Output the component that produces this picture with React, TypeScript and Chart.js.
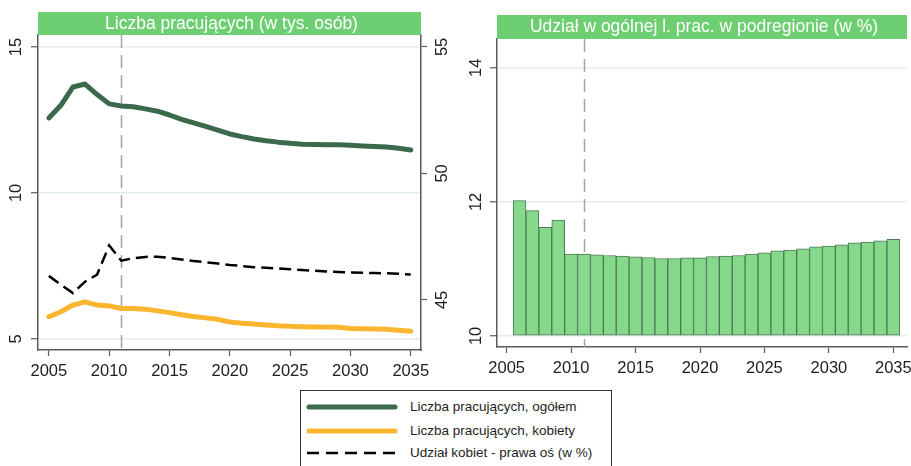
import React, { useEffect, useRef } from "react";
import { Chart, registerables } from "chart.js";

Chart.register(...registerables);

const FONT = "'Liberation Sans', Arial, Helvetica, sans-serif";
Chart.defaults.font.family = FONT;

// ---------- data ----------
const years = [
  2005, 2006, 2007, 2008, 2009, 2010, 2011, 2012, 2013, 2014, 2015, 2016, 2017, 2018, 2019, 2020,
  2021, 2022, 2023, 2024, 2025, 2026, 2027, 2028, 2029, 2030, 2031, 2032, 2033, 2034, 2035,
];
const totalWorkers = [
  12.57, 13.0, 13.63, 13.73, 13.37, 13.05, 12.98, 12.95, 12.88, 12.8, 12.67, 12.52, 12.4, 12.28, 12.15, 12.02,
  11.93, 11.85, 11.79, 11.74, 11.7, 11.67, 11.66, 11.65, 11.65, 11.63, 11.61, 11.59, 11.57, 11.53, 11.47,
];
const femaleWorkers = [
  5.76, 5.93, 6.16, 6.27, 6.16, 6.13, 6.04, 6.04, 6.02, 5.96, 5.9, 5.83, 5.77, 5.72, 5.67, 5.58,
  5.54, 5.51, 5.48, 5.45, 5.43, 5.42, 5.41, 5.41, 5.4, 5.36, 5.35, 5.34, 5.33, 5.3, 5.26,
];
const femaleShare = [
  45.95, 45.6, 45.27, 45.72, 46.0, 47.15, 46.55, 46.65, 46.7, 46.71, 46.66, 46.6, 46.54, 46.49, 46.44, 46.38,
  46.34, 46.29, 46.27, 46.24, 46.21, 46.18, 46.15, 46.12, 46.1, 46.08, 46.07, 46.06, 46.05, 46.03, 46.0,
];
const barYears = [
  2006, 2007, 2008, 2009, 2010, 2011, 2012, 2013, 2014, 2015, 2016, 2017, 2018, 2019, 2020,
  2021, 2022, 2023, 2024, 2025, 2026, 2027, 2028, 2029, 2030, 2031, 2032, 2033, 2034, 2035,
];
const regionShare = [
  12.02, 11.87, 11.62, 11.73, 11.22, 11.22, 11.21, 11.2, 11.19, 11.18, 11.17, 11.155, 11.155, 11.165, 11.165,
  11.185, 11.19, 11.2, 11.22, 11.24, 11.27, 11.28, 11.3, 11.33, 11.34, 11.36, 11.39, 11.4, 11.42, 11.44,
];
const xTickYears = [2005, 2010, 2015, 2020, 2025, 2030, 2035];
const workersTicks = [5, 10, 15];
const shareRightTicks = [45, 50, 55];
const regionTicks = [10, 12, 14];
const forecastYear = 2011;

const leftTitle = "Liczba pracujących (w tys. osób)";
const rightTitle = "Udział w ogólnej l. prac. w podregionie (w %)";
const seriesLabels = [
  "Liczba pracujących, ogółem",
  "Liczba pracujących, kobiety",
  "Udział kobiet - prawa oś (w %)",
];

// ---------- styles ----------
const GREEN_DARK = "#3a6a4b";
const ORANGE = "#fbb52e";
const TITLE_GREEN = "#6dcf72";
const BAR_FILL = "#86d88a";
const BAR_BORDER = "#4c7a58";
const AXIS = "#5a5a5a";
const GRID = "#e3ebee";
const TEXT = "#1e1e1e";

const setTicks = (vals: number[]) => (s: any) => {
  s.ticks = vals.map((v) => ({ value: v }));
};

const titleBarPlugin = (text: string, h: number) => ({
  id: "titleBar",
  afterDraw(chart: any) {
    const { ctx, chartArea } = chart;
    ctx.save();
    ctx.fillStyle = TITLE_GREEN;
    ctx.fillRect(chartArea.left, chartArea.top - h, chartArea.right - chartArea.left, h);
    ctx.fillStyle = "#ffffff";
    ctx.font = `17.5px ${FONT}`;
    ctx.textAlign = "center";
    ctx.textBaseline = "middle";
    ctx.fillText(text, (chartArea.left + chartArea.right) / 2 + 2, chartArea.top - h / 2 + 0.5);
    ctx.restore();
  },
});

const vlinePlugin = {
  id: "vline",
  beforeDatasetsDraw(chart: any) {
    const { ctx, chartArea, scales } = chart;
    const x = Math.round(scales.x.getPixelForValue(forecastYear)) + 0.5;
    ctx.save();
    ctx.strokeStyle = "#a3a3a3";
    ctx.lineWidth = 1.5;
    ctx.setLineDash([13, 7]);
    ctx.beginPath();
    ctx.moveTo(x, chartArea.top);
    ctx.lineTo(x, chartArea.bottom);
    ctx.stroke();
    ctx.restore();
  },
};

const tickFont = { size: 16.5, family: FONT };

function leftConfig(): any {
  const pts = (arr: number[]) => years.map((x, i) => ({ x, y: arr[i] }));
  return {
    type: "line",
    data: {
      datasets: [
        {
          label: seriesLabels[0],
          data: pts(totalWorkers),
          borderColor: GREEN_DARK,
          borderWidth: 5,
          pointRadius: 0,
          yAxisID: "y",
          borderJoinStyle: "round",
          borderCapStyle: "round",
        },
        {
          label: seriesLabels[1],
          data: pts(femaleWorkers),
          borderColor: ORANGE,
          borderWidth: 5,
          pointRadius: 0,
          yAxisID: "y",
          borderJoinStyle: "round",
          borderCapStyle: "round",
        },
        {
          label: seriesLabels[2],
          data: pts(femaleShare),
          borderColor: "#000000",
          borderWidth: 2.5,
          borderDash: [12, 6],
          pointRadius: 0,
          yAxisID: "y2",
        },
      ],
    },
    options: {
      animation: false,
      responsive: false,
      layout: { padding: { top: 35 } },
      plugins: { legend: { display: false }, tooltip: { enabled: false } },
      scales: {
        x: {
          type: "linear",
          min: 2004.1,
          max: 2035.85,
          afterBuildTicks: setTicks(xTickYears),
          afterFit: (s: any) => {
            s.height = 35;
            s.paddingLeft = 0;
            s.paddingRight = 0;
          },
          grid: { drawOnChartArea: false, drawTicks: true, tickLength: 6, tickColor: AXIS, tickWidth: 1.2 },
          border: { color: AXIS, width: 1.5 },
          ticks: {
            font: tickFont,
            color: TEXT,
            padding: 6,
            maxRotation: 0,
            minRotation: 0,
            autoSkip: false,
            callback: (v: any) => String(v),
          },
        },
        y: {
          position: "left",
          min: 4.62,
          max: 15.41,
          afterBuildTicks: setTicks(workersTicks),
          afterFit: (s: any) => {
            s.width = 38;
            s.paddingTop = 0;
            s.paddingBottom = 0;
          },
          grid: { color: GRID, lineWidth: 1.5, tickColor: AXIS, tickLength: 7, tickWidth: 1.2 },
          border: { color: AXIS, width: 1.5 },
          ticks: {
            font: tickFont,
            color: TEXT,
            minRotation: 90,
            maxRotation: 90,
            crossAlign: "center",
            padding: 5.5,
            callback: (v: any) => String(v),
          },
        },
        y2: {
          position: "right",
          min: 43.02,
          max: 55.47,
          afterBuildTicks: setTicks(shareRightTicks),
          afterFit: (s: any) => {
            s.width = 39;
            s.paddingTop = 0;
            s.paddingBottom = 0;
          },
          grid: { drawOnChartArea: false, tickColor: AXIS, tickLength: 6, tickWidth: 1.2 },
          border: { color: AXIS, width: 1.5 },
          ticks: {
            font: tickFont,
            color: TEXT,
            minRotation: 90,
            maxRotation: 90,
            crossAlign: "center",
            padding: 6.5,
            callback: (v: any) => String(v),
          },
        },
      },
    },
    plugins: [vlinePlugin, titleBarPlugin(leftTitle, 23)],
  };
}

function rightConfig(): any {
  return {
    type: "bar",
    data: {
      datasets: [
        {
          label: rightTitle,
          data: barYears.map((x, i) => ({ x, y: regionShare[i] })),
          base: 10,
          backgroundColor: BAR_FILL,
          borderColor: BAR_BORDER,
          borderWidth: 1,
          borderSkipped: false,
          barPercentage: 1,
          categoryPercentage: 1,
        },
      ],
    },
    options: {
      animation: false,
      responsive: false,
      layout: { padding: { top: 39, right: 4 } },
      plugins: { legend: { display: false }, tooltip: { enabled: false } },
      scales: {
        x: {
          type: "linear",
          min: 2004.25,
          max: 2036.06,
          offset: false,
          afterBuildTicks: setTicks(xTickYears),
          afterFit: (s: any) => {
            s.height = 38;
            s.paddingLeft = 0;
            s.paddingRight = 0;
          },
          grid: { drawOnChartArea: false, drawTicks: true, tickLength: 6, tickColor: AXIS, tickWidth: 1.2, offset: false },
          border: { color: AXIS, width: 1.5 },
          ticks: {
            font: tickFont,
            color: TEXT,
            padding: 6,
            maxRotation: 0,
            minRotation: 0,
            autoSkip: false,
            callback: (v: any) => String(v),
          },
        },
        y: {
          position: "left",
          min: 9.835,
          max: 14.43,
          afterBuildTicks: setTicks(regionTicks),
          afterFit: (s: any) => {
            s.width = 37;
            s.paddingTop = 0;
            s.paddingBottom = 0;
          },
          grid: { color: GRID, lineWidth: 1.5, tickColor: AXIS, tickLength: 7, tickWidth: 1.2 },
          border: { color: AXIS, width: 1.5 },
          ticks: {
            font: tickFont,
            color: TEXT,
            minRotation: 90,
            maxRotation: 90,
            crossAlign: "center",
            padding: 4,
            callback: (v: any) => String(v),
          },
        },
      },
    },
    plugins: [vlinePlugin, titleBarPlugin(rightTitle, 24)],
  };
}

function ChartBox(props: { make: () => any; left: number; top: number; width: number; height: number }) {
  const ref = useRef<HTMLCanvasElement>(null);
  useEffect(() => {
    const chart = new Chart(ref.current as HTMLCanvasElement, props.make());
    return () => chart.destroy();
  }, []);
  return (
    <canvas
      ref={ref}
      width={props.width}
      height={props.height}
      style={{ position: "absolute", left: props.left, top: props.top, width: props.width, height: props.height }}
    />
  );
}

function LegendLine(props: { color: string; dashed?: boolean }) {
  return (
    <svg width={92} height={8} style={{ display: "block" }}>
      {props.dashed ? (
        <line x1={1} y1={4} x2={91} y2={4} stroke={props.color} strokeWidth={2.5} strokeDasharray="12 7" />
      ) : (
        <line x1={3} y1={4} x2={89} y2={4} stroke={props.color} strokeWidth={5} strokeLinecap="round" />
      )}
    </svg>
  );
}

export default function App() {
  const items = [
    { label: seriesLabels[0], color: GREEN_DARK, dashed: false, cy: 17 },
    { label: seriesLabels[1], color: ORANGE, dashed: false, cy: 41 },
    { label: seriesLabels[2], color: "#000000", dashed: true, cy: 63 },
  ];
  return (
    <div
      style={{
        position: "fixed",
        left: 0,
        top: 0,
        width: 911,
        height: 466,
        overflow: "hidden",
        background: "#ffffff",
      }}
    >
      <ChartBox make={leftConfig} left={0} top={0} width={460} height={385} />
      <ChartBox make={rightConfig} left={460} top={0} width={451} height={385} />
      <div
        style={{
          position: "absolute",
          left: 300,
          top: 390,
          width: 312,
          height: 90,
          border: "1px solid #333",
          boxSizing: "border-box",
          background: "#fff",
        }}
      >
        {items.map((it) => (
          <div key={it.label}>
            <div style={{ position: "absolute", left: 5, top: it.cy - 4 - 1 }}>
              <LegendLine color={it.color} dashed={it.dashed} />
            </div>
            <div
              style={{
                position: "absolute",
                left: 109,
                top: it.cy - 9,
                fontFamily: FONT,
                fontSize: 13.5,
                lineHeight: "16px",
                color: TEXT,
                whiteSpace: "nowrap",
              }}
            >
              {it.label}
            </div>
          </div>
        ))}
      </div>
    </div>
  );
}
